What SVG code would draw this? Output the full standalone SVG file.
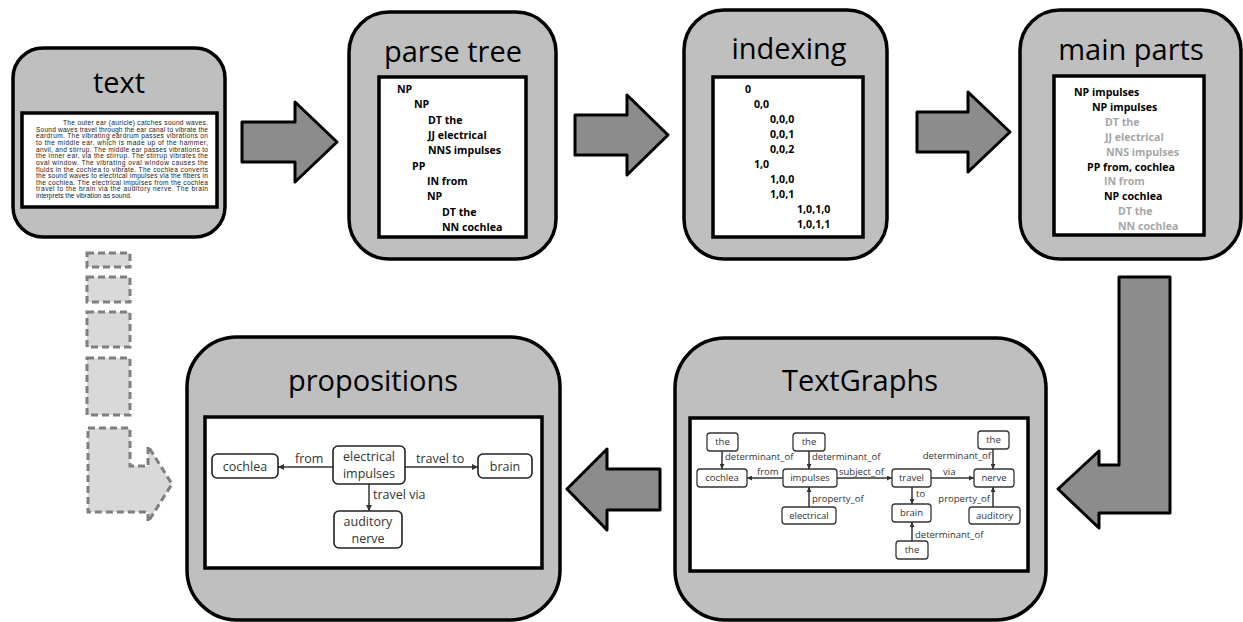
<svg xmlns="http://www.w3.org/2000/svg" width="1243" height="622" viewBox="0 0 1243 622">
<style>
.panel{fill:#bfbfbf;stroke:#000;stroke-width:3.5}
.inner{fill:#fff;stroke:#000;stroke-width:3.5}
.title{font-family:"Open Sans","Liberation Sans",sans-serif;font-size:29px;text-anchor:middle;fill:#000}
.pt{font-family:"Open Sans","Liberation Sans",sans-serif;font-size:10.6px;font-weight:bold;fill:#000;white-space:pre}
.gr{fill:#a6a6a6}
.arrow{fill:#8c8c8c;stroke:#000;stroke-width:3;stroke-linejoin:round}
.dash{fill:#d9d9d9;stroke:#7f7f7f;stroke-width:3;stroke-dasharray:7 4}
.para{font-family:"Liberation Sans",Arial,sans-serif;font-size:6.6px;fill:#222}
.tgn{fill:#fff;stroke:#333;stroke-width:1.3}
.tgt{font-family:"Open Sans","Liberation Sans",sans-serif;font-size:9.5px;fill:#333;text-anchor:middle}
.tgl{font-family:"Open Sans","Liberation Sans",sans-serif;font-size:9.5px;fill:#333}
.edge{stroke:#333;stroke-width:1.5;fill:none}
.pn{fill:#fff;stroke:#222;stroke-width:1.6}
.pnt{font-family:"Open Sans","Liberation Sans",sans-serif;font-size:12.5px;fill:#333;text-anchor:middle}
.pl{font-family:"Open Sans","Liberation Sans",sans-serif;font-size:12.5px;fill:#333}
</style>
<defs>
<marker id="ah" viewBox="0 0 10 10" refX="10" refY="5" markerWidth="6" markerHeight="6" orient="auto" markerUnits="userSpaceOnUse"><path d="M0,0 L10,5 L0,10 z" fill="#333"/></marker>
<marker id="ahs" viewBox="0 0 10 10" refX="10" refY="5" markerWidth="5" markerHeight="5" orient="auto" markerUnits="userSpaceOnUse"><path d="M0,0 L10,5 L0,10 z" fill="#333"/></marker>
</defs>

<g id="flow-arrows">
<polygon class="arrow" points="242,122 295,122 295,102 337,142 295,182 295,162 242,162"/>
<polygon class="arrow" points="575,115 627,115 627,95 668,135 627,175 627,155 575,155"/>
<polygon class="arrow" points="917,112 968,112 968,92 1010,132 968,172 968,152 917,152"/>
<polygon class="arrow" points="1119,277 1170,277 1170,513 1099,513 1099,528 1058,489 1099,451 1099,465 1119,465"/>
<polygon class="arrow" points="660,469 607,469 607,449 567,489 607,530 607,510 660,510"/>
</g>

<g id="dashed-path">
<rect class="dash" x="87" y="253" width="43" height="14"/>
<rect class="dash" x="87" y="277" width="43" height="25"/>
<rect class="dash" x="87" y="312" width="43" height="35"/>
<rect class="dash" x="87" y="358" width="43" height="57"/>
<polygon class="dash" points="88,428 130,428 130,466 148,466 148,446 172,484 148,522 148,512 88,512"/>
</g>

<g id="panel-text">
<rect class="panel" x="13" y="48" width="212" height="189" rx="30"/>
<text class="title" x="119" y="93">text</text>
<rect class="inner" x="22" y="113" width="195" height="94"/>
<g class="para">
<text x="63" y="125" textLength="145" lengthAdjust="spacing">The outer ear (auricle) catches sound waves.</text>
<text x="36" y="131.6" textLength="172" lengthAdjust="spacing">Sound waves travel through the ear canal to vibrate the</text>
<text x="36" y="138.3" textLength="172" lengthAdjust="spacing">eardrum. The vibrating eardrum passes vibrations on</text>
<text x="36" y="144.9" textLength="172" lengthAdjust="spacing">to the middle ear, which is made up of the hammer,</text>
<text x="36" y="151.6" textLength="172" lengthAdjust="spacing">anvil, and stirrup. The middle ear passes vibrations to</text>
<text x="36" y="158.2" textLength="172" lengthAdjust="spacing">the inner ear, via the stirrup. The stirrup vibrates the</text>
<text x="36" y="164.8" textLength="172" lengthAdjust="spacing">oval window. The vibrating oval window causes the</text>
<text x="36" y="171.5" textLength="172" lengthAdjust="spacing">fluids in the cochlea to vibrate. The cochlea converts</text>
<text x="36" y="178.1" textLength="172" lengthAdjust="spacing">the sound waves to electrical impulses via the fibers in</text>
<text x="36" y="184.8" textLength="172" lengthAdjust="spacing">the cochlea. The electrical impulses from the cochlea</text>
<text x="36" y="191.4" textLength="172" lengthAdjust="spacing">travel to the brain via the auditory nerve. The brain</text>
<text x="36" y="198">interprets the vibration as sound.</text>
</g>
</g>

<g id="panel-parse-tree">
<rect class="panel" x="349" y="12" width="207" height="247" rx="40"/>
<text class="title" x="453" y="62">parse tree</text>
<rect class="inner" x="379" y="77" width="147" height="160"/>
<g class="pt">
<text x="397" y="93">NP</text>
<text x="414" y="108.4">NP</text>
<text x="428" y="123.7">DT  the</text>
<text x="428" y="139">JJ electrical</text>
<text x="428" y="154.4">NNS impulses</text>
<text x="412" y="169.7">PP</text>
<text x="427" y="185">IN from</text>
<text x="427" y="200.4">NP</text>
<text x="442" y="215.8">DT the</text>
<text x="442" y="231">NN cochlea</text>
</g>
</g>

<g id="panel-indexing">
<rect class="panel" x="684" y="10" width="203" height="249" rx="40"/>
<text class="title" x="789" y="59">indexing</text>
<rect class="inner" x="713" y="77" width="150" height="160"/>
<g class="pt">
<text x="745" y="93">0</text>
<text x="754" y="108">0,0</text>
<text x="770" y="123">0,0,0</text>
<text x="770" y="138">0,0,1</text>
<text x="770" y="153">0,0,2</text>
<text x="754" y="168">1,0</text>
<text x="770" y="183">1,0,0</text>
<text x="770" y="198">1,0,1</text>
<text x="797" y="213">1,0,1,0</text>
<text x="797" y="228">1,0,1,1</text>
</g>
</g>

<g id="panel-main-parts">
<rect class="panel" x="1020" y="10" width="221" height="249" rx="40"/>
<text class="title" x="1131" y="60">main parts</text>
<rect class="inner" x="1054" y="76" width="150" height="159"/>
<g class="pt">
<text x="1074" y="96">NP impulses</text>
<text x="1092" y="110.9">NP impulses</text>
<text x="1105" y="125.8" class="gr">DT  the</text>
<text x="1105" y="140.7" class="gr">JJ electrical</text>
<text x="1106" y="155.6" class="gr">NNS impulses</text>
<text x="1087" y="170.5">PP from, cochlea</text>
<text x="1104" y="185.4" class="gr">IN from</text>
<text x="1104" y="200.3">NP cochlea</text>
<text x="1118" y="215.2" class="gr">DT the</text>
<text x="1118" y="230.1" class="gr">NN cochlea</text>
</g>
</g>

<g id="panel-textgraphs">
<rect class="panel" x="675" y="338" width="371" height="282" rx="50"/>
<text class="title" x="860" y="391">TextGraphs</text>
<rect class="inner" x="690" y="418" width="338" height="153"/>
</g>

<g id="panel-propositions">
<rect class="panel" x="187" y="337" width="373" height="283" rx="50"/>
<text class="title" x="373" y="391">propositions</text>
<rect class="inner" x="205" y="417" width="337" height="151"/>
</g>

<g id="tg-connectors">
<line class="edge" x1="722" y1="451" x2="722" y2="469" marker-end="url(#ahs)"/>
<line class="edge" x1="809" y1="451" x2="809" y2="469" marker-end="url(#ahs)"/>
<line class="edge" x1="993" y1="449" x2="993" y2="469" marker-end="url(#ahs)"/>
<line class="edge" x1="783" y1="478" x2="747" y2="478" marker-end="url(#ahs)"/>
<line class="edge" x1="837" y1="478" x2="892" y2="478" marker-end="url(#ahs)"/>
<line class="edge" x1="931" y1="478" x2="974" y2="478" marker-end="url(#ahs)"/>
<line class="edge" x1="912" y1="487" x2="912" y2="504" marker-end="url(#ahs)"/>
<line class="edge" x1="809" y1="507" x2="809" y2="487" marker-end="url(#ahs)"/>
<line class="edge" x1="993" y1="507" x2="993" y2="487" marker-end="url(#ahs)"/>
<line class="edge" x1="912" y1="541" x2="912" y2="522" marker-end="url(#ahs)"/>
<text class="tgl" x="725" y="460">determinant_of</text>
<text class="tgl" x="812" y="460">determinant_of</text>
<text class="tgl" x="991" y="459" text-anchor="end">determinant_of</text>
<text class="tgl" x="915" y="538">determinant_of</text>
<text class="tgl" x="757" y="475">from</text>
<text class="tgl" x="839" y="475">subject_of</text>
<text class="tgl" x="943" y="475">via</text>
<text class="tgl" x="916" y="497">to</text>
<text class="tgl" x="812" y="502">property_of</text>
<text class="tgl" x="990" y="502" text-anchor="end">property_of</text>
</g>
<g id="tg-the1"><rect class="tgn" x="707" y="433" width="31" height="18" rx="3"/><text class="tgt" x="722.5" y="445.3">the</text></g>
<g id="tg-the2"><rect class="tgn" x="793" y="433" width="32" height="18" rx="3"/><text class="tgt" x="809" y="445.3">the</text></g>
<g id="tg-the3"><rect class="tgn" x="978" y="431" width="31" height="18" rx="3"/><text class="tgt" x="993.5" y="443.3">the</text></g>
<g id="tg-cochlea"><rect class="tgn" x="697" y="469" width="50" height="18" rx="3"/><text class="tgt" x="722" y="481.3">cochlea</text></g>
<g id="tg-impulses"><rect class="tgn" x="783" y="469" width="54" height="18" rx="3"/><text class="tgt" x="810" y="481.3">impulses</text></g>
<g id="tg-travel"><rect class="tgn" x="892" y="469" width="39" height="18" rx="3"/><text class="tgt" x="911.5" y="481.3">travel</text></g>
<g id="tg-nerve"><rect class="tgn" x="974" y="469" width="40" height="18" rx="3"/><text class="tgt" x="994" y="481.3">nerve</text></g>
<g id="tg-electrical"><rect class="tgn" x="782" y="507" width="54" height="17" rx="3"/><text class="tgt" x="809" y="518.8">electrical</text></g>
<g id="tg-brain"><rect class="tgn" x="892" y="504" width="39" height="18" rx="3"/><text class="tgt" x="911.5" y="516.3">brain</text></g>
<g id="tg-auditory"><rect class="tgn" x="969" y="507" width="51" height="17" rx="3"/><text class="tgt" x="994.5" y="518.8">auditory</text></g>
<g id="tg-the4"><rect class="tgn" x="896" y="541" width="32" height="18" rx="3"/><text class="tgt" x="912" y="553.3">the</text></g>

<g id="prop-connectors">
<line class="edge" x1="333" y1="467" x2="278" y2="467" marker-end="url(#ah)"/>
<line class="edge" x1="405" y1="467" x2="478" y2="467" marker-end="url(#ah)"/>
<line class="edge" x1="369" y1="484" x2="369" y2="511" marker-end="url(#ah)"/>
<text class="pl" x="295" y="463">from</text>
<text class="pl" x="416" y="463">travel to</text>
<text class="pl" x="373" y="499">travel via</text>
</g>
<g id="p-cochlea"><rect class="pn" x="212" y="454" width="66" height="24" rx="5"/><text class="pnt" x="245" y="470.5">cochlea</text></g>
<g id="p-electrical-impulses"><rect class="pn" x="333" y="446" width="72" height="38" rx="5"/><text class="pnt" x="369" y="460.5">electrical</text><text class="pnt" x="369" y="477.5">impulses</text></g>
<g id="p-brain"><rect class="pn" x="478" y="454" width="54" height="24" rx="5"/><text class="pnt" x="505" y="470.5">brain</text></g>
<g id="p-auditory-nerve"><rect class="pn" x="334" y="511" width="68" height="37" rx="5"/><text class="pnt" x="368" y="525.5">auditory</text><text class="pnt" x="368" y="543">nerve</text></g>
</svg>
